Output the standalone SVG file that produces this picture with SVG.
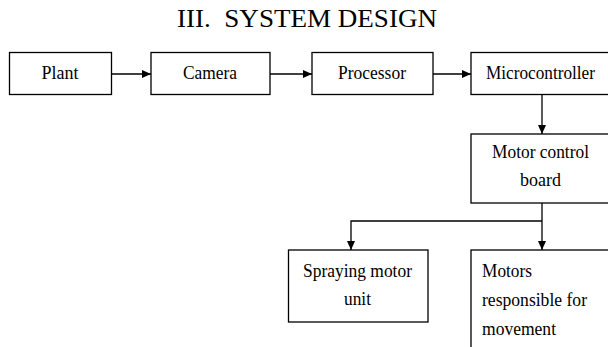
<svg xmlns="http://www.w3.org/2000/svg" width="608" height="347" viewBox="0 0 608 347">
<style>
  .box { fill: #fff; stroke: #000; stroke-width: 1.3; }
  .lbl { font-family: 'Liberation Serif', 'Times New Roman', 'DejaVu Serif', serif; font-size: 19px; fill: #000; }
  .c { text-anchor: middle; }
  .title { font-family: 'Liberation Serif', 'Times New Roman', 'DejaVu Serif', serif; font-size: 26px; fill: #000; }
  .conn { fill: none; stroke: #000; stroke-width: 1.3; }
</style>
<defs>
  <marker id="arr" markerWidth="10" markerHeight="8" refX="9" refY="4" orient="auto" markerUnits="userSpaceOnUse">
    <path d="M0,0 L9,4 L0,8 Z" fill="#000"/>
  </marker>
</defs>
<rect width="608" height="347" fill="#fff"/>
<text class="title" x="177" y="27" xml:space="preserve" textLength="260" lengthAdjust="spacingAndGlyphs">III.  SYSTEM DESIGN</text>

<g id="connectors">
  <line class="conn" x1="111" y1="74" x2="151" y2="74" marker-end="url(#arr)"/>
  <line class="conn" x1="270" y1="74" x2="312" y2="74" marker-end="url(#arr)"/>
  <line class="conn" x1="433" y1="74" x2="471" y2="74" marker-end="url(#arr)"/>
  <line class="conn" x1="542" y1="94.5" x2="542" y2="134" marker-end="url(#arr)"/>
  <line class="conn" x1="542" y1="203" x2="542" y2="250" marker-end="url(#arr)"/>
  <polyline class="conn" points="542,221 351,221 351,250" marker-end="url(#arr)"/>
</g>

<g id="plant">
  <rect class="box" x="9.5" y="52.5" width="102" height="42"/>
  <text class="lbl c" x="60" y="79" textLength="37" lengthAdjust="spacingAndGlyphs">Plant</text>
</g>
<g id="camera">
  <rect class="box" x="151" y="52.5" width="119" height="42"/>
  <text class="lbl c" x="210" y="79" textLength="54" lengthAdjust="spacingAndGlyphs">Camera</text>
</g>
<g id="processor">
  <rect class="box" x="312" y="52.5" width="121" height="42"/>
  <text class="lbl c" x="372" y="79" textLength="68" lengthAdjust="spacingAndGlyphs">Processor</text>
</g>
<g id="microcontroller">
  <rect class="box" x="471" y="52.5" width="142" height="42"/>
  <text class="lbl c" x="540.5" y="79" textLength="109" lengthAdjust="spacingAndGlyphs">Microcontroller</text>
</g>
<g id="motor-control-board">
  <rect class="box" x="471" y="134" width="142" height="69"/>
  <text class="lbl c" x="540.5" y="158" textLength="97" lengthAdjust="spacingAndGlyphs">Motor control</text>
  <text class="lbl c" x="540.5" y="186" textLength="41" lengthAdjust="spacingAndGlyphs">board</text>
</g>
<g id="spraying-motor-unit">
  <rect class="box" x="288.5" y="250" width="139.5" height="72"/>
  <text class="lbl c" x="357.5" y="277" textLength="109" lengthAdjust="spacingAndGlyphs">Spraying motor</text>
  <text class="lbl c" x="357.5" y="305" textLength="27" lengthAdjust="spacingAndGlyphs">unit</text>
</g>
<g id="motors-movement">
  <rect class="box" x="471" y="250" width="142" height="110"/>
  <text class="lbl" x="482" y="277" textLength="50" lengthAdjust="spacingAndGlyphs">Motors</text>
  <text class="lbl" x="482" y="306" textLength="105" lengthAdjust="spacingAndGlyphs">responsible for</text>
  <text class="lbl" x="482" y="335" textLength="74" lengthAdjust="spacingAndGlyphs">movement</text>
</g>
</svg>
